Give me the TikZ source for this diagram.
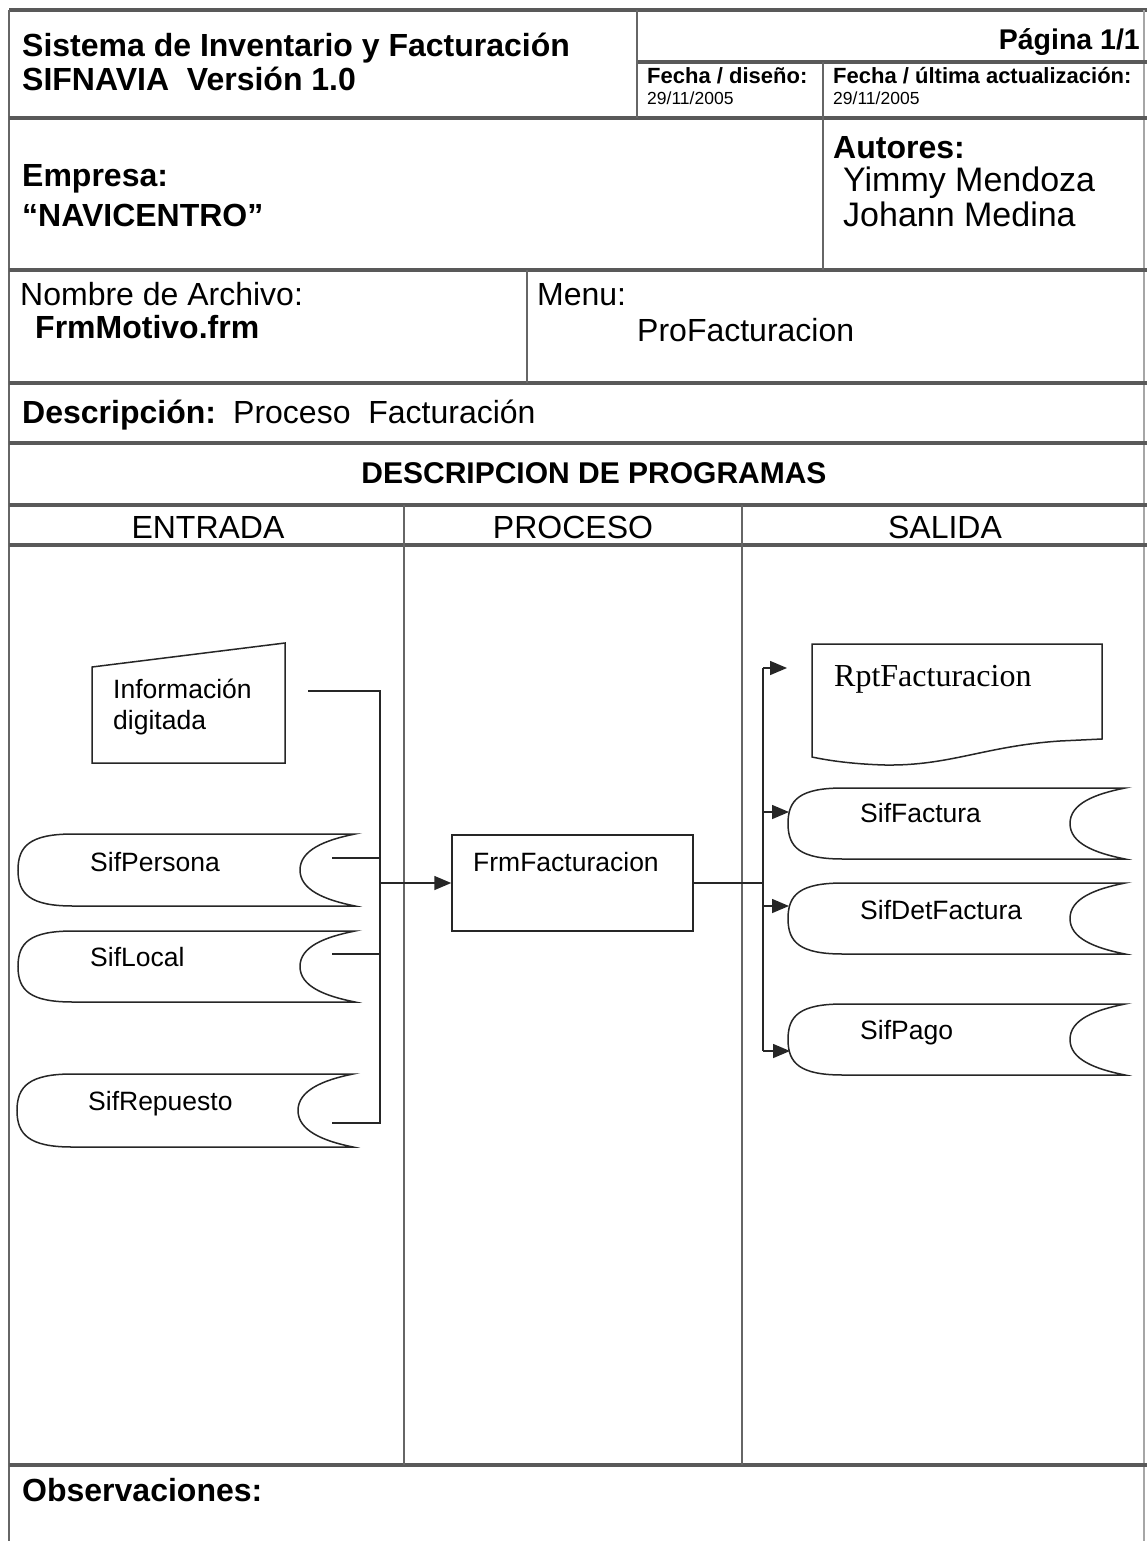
\documentclass[tikz,border=0pt]{standalone}
\usepackage{fontspec}
\setmainfont{Liberation Sans}
\newfontfamily\timesfont{Liberation Serif}
\usetikzlibrary{arrows.meta}
\newcommand\storeshape[5]{%
  \draw[shapeline] ({#2+55},#3) -- (#4,#3)
    .. controls ({#4-30},{#3+6}) and ({#4-55},{(#3+#5)/2-20}) .. ({#4-55},{(#3+#5)/2})
    .. controls ({#4-55},{(#3+#5)/2+20}) and ({#4-30},{#5-6}) .. (#4,#5)
    -- ({#2+55},#5)
    .. controls ({#2+12},#5) and (#2,{(#3+#5)/2+24}) .. (#2,{(#3+#5)/2})
    .. controls (#2,{(#3+#5)/2-24}) and ({#2+12},#3) .. ({#2+55},#3) -- cycle;
  \coordinate (#1-nw) at (#2,#3);
  \coordinate (#1-se) at (#4,#5);
}
\begin{document}
\begin{tikzpicture}[x=1pt,y=-1pt,
  rowline/.style={line width=3.2pt, draw=black!65},
  colline/.style={line width=2pt, draw=black!60},
  shapeline/.style={line width=1.5pt, draw=black!85},
  conn/.style={line width=1.5pt, draw=black!85},
  arr/.style={conn, -{Triangle[length=17pt,width=14pt]}},
  t/.style={inner sep=0pt, anchor=base west},
  reg/.style={font=\fontsize{32}{38}\selectfont},
  regb/.style={font=\fontsize{32}{38}\selectfont\bfseries},
  hdr/.style={font=\fontsize{22}{26}\selectfont\bfseries},
  dat/.style={font=\fontsize{17.5}{21}\selectfont},
  sml/.style={font=\fontsize{26.5}{31}\selectfont},
]
\useasboundingbox (0,0) rectangle (1147,1541);
\fill[white] (0,0) rectangle (1147,1541);

% ---------- frame ----------
\draw[rowline] (9,10) -- (1147,10);
\draw[colline] (9,10) -- (9,1541);
\draw[line width=1.2pt, draw=black!35] (1144,10) -- (1144,1541);
\foreach \yy in {118,270,383,443,505,545,1465}
  \draw[rowline] (9,\yy) -- (1147,\yy);
\draw[rowline] (637,62) -- (1147,62);
\draw[colline] (637,10) -- (637,118);
\draw[colline] (823,62) -- (823,270);
\draw[colline] (527,270) -- (527,383);
\draw[colline] (404,505) -- (404,1465);
\draw[colline] (742,505) -- (742,1465);

% ---------- header texts ----------
\node[t, regb] (tit1) at (22,57) {Sistema de Inventario y Facturación};
\node[t, regb] (tit2) at (22,91) {SIFNAVIA\ \ Versión 1.0};
\node[inner sep=0pt, anchor=base east, font=\fontsize{28.5}{33}\selectfont\bfseries] (pag) at (1140,50) {Página 1/1};
\node[t, hdr] (fd) at (647,84) {Fecha / diseño:};
\node[t, dat] (fdv) at (647,105) {29/11/2005};
\node[t, hdr] (fu) at (833,84) {Fecha / última actualización:};
\node[t, dat] (fuv) at (833,105) {29/11/2005};

\node[t, regb] (emp) at (22,187) {Empresa:};
\node[t, regb] (empv) at (22,226) {“NAVICENTRO”};
\node[t, regb] (aut) at (833,159) {Autores:};
\node[t, font=\fontsize{34}{40}\selectfont] (aut1) at (843,192) {Yimmy Mendoza};
\node[t, font=\fontsize{34}{40}\selectfont] (aut2) at (843,226) {Johann Medina};

\node[t, reg] (arch) at (20,305) {Nombre de Archivo:};
\node[t, regb] (archv) at (35,338) {FrmMotivo.frm};
\node[t, reg] (menu) at (537,305) {Menu:};
\node[t, reg] (menuv) at (637,341) {ProFacturacion};

\node[t, regb] (desc) at (22,423) {Descripción:};
\node[t, reg] (descv) at (233,423) {Proceso\ \ Facturación};

\node[inner sep=0pt, anchor=base, font=\fontsize{30}{36}\selectfont\bfseries] (dp) at (594,483) {DESCRIPCION DE PROGRAMAS};
\node[inner sep=0pt, anchor=base, reg] (ent) at (208,538) {ENTRADA};
\node[inner sep=0pt, anchor=base, reg] (pro) at (573,538) {PROCESO};
\node[inner sep=0pt, anchor=base, reg] (sal) at (945,538) {SALIDA};

\node[t, regb] (obs) at (22,1501) {Observaciones:};

% ---------- ENTRADA shapes ----------
\draw[shapeline] (92,667) -- (285,643) -- (285,763) -- (92,763) -- cycle;
\node[t, sml] (mi1) at (113,698) {Información};
\node[t, sml] (mi2) at (113,729) {digitada};

\storeshape{sp}{18}{834}{355}{906}
\node[t, sml] (spt) at (90,871) {SifPersona};
\storeshape{sl}{18}{931}{355}{1002}
\node[t, sml] (slt) at (90,966) {SifLocal};
\storeshape{rp}{17}{1074}{353}{1147}
\node[t, sml] (rpt) at (88,1110) {SifRepuesto};

% ---------- PROCESO ----------
\node[shapeline, draw, minimum width=241pt, minimum height=96pt, inner sep=0pt] (frm) at (572.5,883) {};
\node[t, sml] (frmt) at (473,871) {FrmFacturacion};

% ---------- SALIDA shapes ----------
\draw[shapeline] (812,644) -- (1102,644) -- (1102,739) -- (1060,741)
  .. controls (985,746) and (950,766) .. (885,765)
  .. controls (850,764) and (826,760) .. (812,757) -- cycle;
\node[t, font=\fontsize{32}{38}\selectfont\timesfont] (rptf) at (834,686) {RptFacturacion};

\storeshape{sf}{788}{788}{1125}{859}
\node[t, sml] (sft) at (860,822) {SifFactura};
\storeshape{sd}{788}{883}{1125}{954}
\node[t, sml] (sdt) at (860,919) {SifDetFactura};
\storeshape{sg}{788}{1004}{1125}{1075}
\node[t, sml] (sgt) at (860,1039) {SifPago};

% ---------- connectors ----------
\coordinate (mi-out) at (308,691);
\coordinate (lbusT) at (380,691);
\coordinate (lbusB) at (380,1123);
\coordinate (rp-out) at (332,1123);
\coordinate (sp-out) at (332,858);
\coordinate (sl-out) at (332,954);
\coordinate (lbusM) at (380,883);
\draw[conn] (mi-out) -- (lbusT) -- (lbusB) -- (rp-out);
\draw[conn] (sp-out) -- (sp-out -| lbusT);
\draw[conn] (sl-out) -- (sl-out -| lbusT);
\draw[arr] (lbusM) -- (frm.west);

\coordinate (rbusT) at (763,668);
\coordinate (rbusB) at (763,1051);
\coordinate (rptf-in) at (787,668);
\coordinate (sf-in) at (789,812);
\coordinate (sd-in) at (789,906);
\coordinate (sg-in) at (790,1051);
\draw[conn] (frm.east) -- (frm.east -| rbusT);
\draw[conn] (rbusT) -- (rbusB);
\draw[arr] (rbusT) -- (rptf-in);
\draw[arr] (sf-in -| rbusT) -- (sf-in);
\draw[arr] (sd-in -| rbusT) -- (sd-in);
\draw[arr] (rbusB) -- (sg-in);
\end{tikzpicture}
\end{document}
